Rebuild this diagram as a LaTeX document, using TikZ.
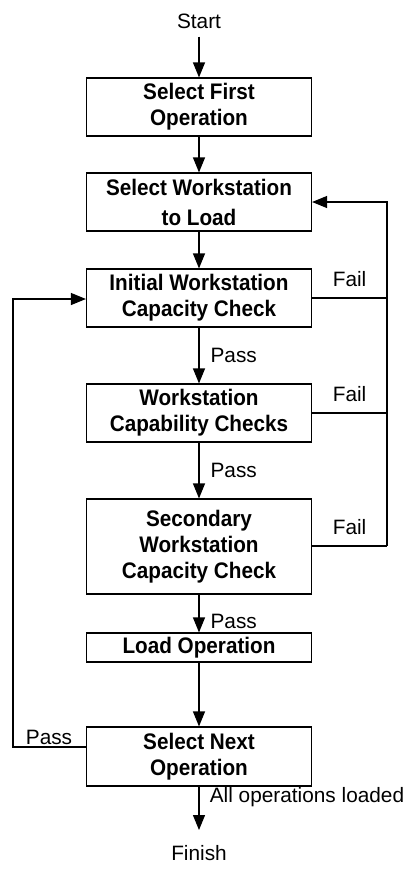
\documentclass[tikz,border=0pt]{standalone}
\usepackage{fontspec}
\setmainfont{Liberation Sans}
\newfontfamily\boxfont{Liberation Sans Bold}[FakeStretch=0.92]
\usetikzlibrary{arrows.meta}
\begin{document}
\begin{tikzpicture}[x=1pt,y=-1pt,
  box/.style={draw, line width=1.2pt, minimum width=225pt, inner sep=0pt, align=center,
    font=\boxfont\fontsize{22.5}{26}\selectfont},
  lbl/.style={inner sep=0pt, font=\fontsize{20.8}{24}\selectfont},
  flow/.style={line width=1.2pt, -{Triangle[width=12pt,length=15pt]}},
  line/.style={line width=1.2pt}]
\useasboundingbox (0,0) rectangle (410,871);
\node[lbl] (start) at (199,21) {Start};
\node[box, minimum height=58pt] (b1) at (199,107) {Select First\\Operation};
\node[box, minimum height=58pt, font=\boxfont\fontsize{22.5}{30}\selectfont] (b2) at (199,202) {Select Workstation\\to Load};
\node[box, minimum height=58pt] (b3) at (199,298) {Initial Workstation\\Capacity Check};
\node[box, minimum height=58pt] (b4) at (199,413) {Workstation\\Capability Checks};
\node[box, minimum height=95pt] (b5) at (199,546.5) {Secondary\\Workstation\\Capacity Check};
\node[box, minimum height=29pt] (b6) at (199,647.5) {Load Operation};
\node[box, minimum height=59pt] (b7) at (199,756.5) {Select Next\\Operation};
\node[lbl] (finish) at (199,853) {Finish};

\coordinate (r3) at (387,298);
\coordinate (r4) at (387,413);
\coordinate (r5) at (387,546);
\coordinate (r2) at (387,202);
\coordinate (l7) at (13,747);
\coordinate (l3) at (13,299);

\draw[flow] (start.south) ++(0,8) -- (b1.north);
\draw[flow] (b1) -- (b2);
\draw[flow] (b2) -- (b3);
\draw[flow] (b3) -- node[lbl, right=11pt] {Pass} (b4);
\draw[flow] (b4) -- node[lbl, right=11pt] {Pass} (b5);
\draw[flow] (b5) -- node[lbl, right=11pt, yshift=-8pt] {Pass} (b6);
\draw[flow] (b6) -- (b7);
\draw[flow] (b7) -- (finish.north |- 0,830);

\draw[line] (b3.east |- r3) -- node[lbl, above=11pt] {Fail} (r3);
\draw[line] (b4.east |- r4) -- node[lbl, above=11pt] {Fail} (r4);
\draw[line] (b5.east |- r5) -- node[lbl, above=11pt] {Fail} (r5);
\draw[flow] (r5) -- (r2) -- (b2.east);

\draw[flow] (b7.west |- l7) -- (l7) -- (l3) -- (b3.west |- l3);
\node[lbl] (pl) at (49,737) {Pass};
\node[lbl] (all) at (307,797) {All operations loaded};
\end{tikzpicture}
\end{document}
